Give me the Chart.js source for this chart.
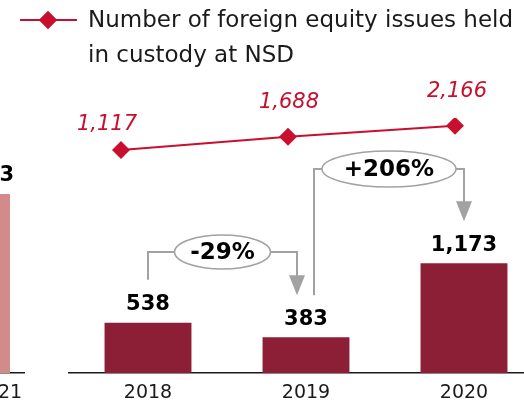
<!DOCTYPE html>
<html>
<head>
<meta charset="utf-8">
<script src="https://cdn.jsdelivr.net/npm/chart.js@4.4.0/dist/chart.umd.min.js"></script>
<style>
    html, body { margin: 0; padding: 0; background: #fff; }
    #wrap { position: relative; width: 524px; height: 404px; overflow: hidden; }
    #wrap canvas { position: absolute; top: 0; }
</style>
</head>
<body>
<div id="wrap">
    <canvas id="prevBars" width="80" height="412" style="left:-55px"></canvas>
    <canvas id="bars" width="600" height="412" style="left:0"></canvas>
    <canvas id="issues" width="524" height="404" style="left:0"></canvas>
</div>
<script>
// data
const prevYears = ["2021"];
const prevValues = [1913];
const years = ["2018", "2019", "2020"];
const barValues = [538, 383, 1173];
const issuesHeld = [1117, 1688, 2166];
const legendLines = ["Number of foreign equity issues held", "in custody at NSD"];

const FONT = "'DejaVu Sans', Verdana, sans-serif";
const RED = "#c8102e";
const WINE = "#8c1f36";
const PINK = "#d38a8a";
const GREY = "#a2a2a2";

function fmt(v) {
    return v.toLocaleString("en-US");
}

// value above every bar
const barLabels = {
    id: "barLabels",
    afterDatasetsDraw(chart) {
        const ctx = chart.ctx;
        ctx.save();
        ctx.font = "bold 21px " + FONT;
        ctx.fillStyle = "#000";
        ctx.textAlign = "center";
        ctx.textBaseline = "middle";
        chart.getDatasetMeta(0).data.forEach((bar, i) => {
            const x = bar.x + (chart.options.labelShift || 0);
            ctx.fillText(fmt(chart.data.datasets[0].data[i]), x, bar.y - 18);
        });
        ctx.restore();
    }
};

// change bubbles between neighbouring bars
const changeBubbles = {
    id: "changeBubbles",
    afterDatasetsDraw(chart) {
        const ctx = chart.ctx;
        const bars = chart.getDatasetMeta(0).data;
        const vals = chart.data.datasets[0].data;

        function arrowHead(x, y) {
            ctx.beginPath();
            ctx.moveTo(x - 8, y - 20);
            ctx.lineTo(x + 8, y - 20);
            ctx.lineTo(x, y);
            ctx.closePath();
            ctx.fill();
        }

        function bubble(from, to, level, rx, ry, x0, x1) {
            const a = bars[from], b = bars[to];
            const pct = Math.round((vals[to] / vals[from] - 1) * 100);
            const text = (pct > 0 ? "+" : "") + pct + "%";
            const startY = a.y - (from === 0 ? 43 : 42);
            const cx = (x0 + x1) / 2;
            const tipY = b.y - 42;

            ctx.save();
            ctx.strokeStyle = GREY;
            ctx.fillStyle = GREY;
            ctx.lineWidth = 2;
            ctx.beginPath();
            ctx.moveTo(x0, startY);
            ctx.lineTo(x0, level);
            ctx.lineTo(cx - rx, level);
            ctx.moveTo(cx + rx, level);
            ctx.lineTo(x1, level);
            ctx.lineTo(x1, tipY - 18);
            ctx.stroke();
            arrowHead(x1, tipY);

            ctx.beginPath();
            ctx.ellipse(cx, level, rx, ry, 0, 0, Math.PI * 2);
            ctx.fillStyle = "#fff";
            ctx.fill();
            ctx.lineWidth = 1.5;
            ctx.stroke();

            ctx.fillStyle = "#000";
            ctx.font = "bold 23px " + FONT;
            ctx.textAlign = "center";
            ctx.textBaseline = "middle";
            ctx.fillText(text, cx, level + 1);
            ctx.restore();
        }

        bubble(0, 1, 252, 48, 17, bars[0].x, bars[1].x - 9);
        bubble(1, 2, 169, 67, 18, bars[1].x + 8, bars[2].x);
    }
};

function axisX(labelOffset) {
    return {
        grid: {display: false, drawTicks: false},
        border: {display: true, color: "#1a1a1a", width: 1.5},
        ticks: {
            color: "#1a1a1a",
            font: {family: FONT, size: 19},
            padding: 8,
            labelOffset: labelOffset
        }
    };
}

const yHidden = {display: false, min: 0, max: 2500};

new Chart(document.getElementById("prevBars"), {
    type: "bar",
    data: {
        labels: prevYears,
        datasets: [{data: prevValues, backgroundColor: PINK, barPercentage: 0.625, categoryPercentage: 1}]
    },
    options: {
        responsive: false,
        animation: false,
        labelShift: -4,
        layout: {padding: {top: 139, left: 0, right: 0, bottom: 0}},
        plugins: {legend: {display: false}, tooltip: {enabled: false}},
        scales: {x: axisX(13), y: yHidden}
    },
    plugins: [barLabels]
});

new Chart(document.getElementById("bars"), {
    type: "bar",
    data: {
        labels: years,
        datasets: [{data: barValues, backgroundColor: WINE, barPercentage: 0.55, categoryPercentage: 1}]
    },
    options: {
        responsive: false,
        animation: false,
        layout: {padding: {top: 139, left: 69, right: 57, bottom: 0}},
        plugins: {legend: {display: false}, tooltip: {enabled: false}},
        scales: {x: axisX(0), y: yHidden}
    },
    plugins: [barLabels, changeBubbles]
});

// legend with a two-line caption
const issuesLegend = {
    id: "issuesLegend",
    afterDraw(chart) {
        const ctx = chart.ctx;
        ctx.save();
        ctx.strokeStyle = RED;
        ctx.lineWidth = 2;
        ctx.beginPath();
        ctx.moveTo(20, 20);
        ctx.lineTo(77, 20);
        ctx.stroke();
        ctx.fillStyle = RED;
        Chart.helpers.drawPoint(ctx, {pointStyle: "rectRot", radius: 9, borderWidth: 0}, 48, 20);
        ctx.fill();
        ctx.fillStyle = "#1a1a1a";
        ctx.font = "23px " + FONT;
        ctx.textBaseline = "middle";
        legendLines.forEach((line, i) => ctx.fillText(line, 88, 21 + i * 35));
        ctx.restore();
    }
};

// italic values over the line points
const lineLabelShift = [[-14, -26], [1, -34], [2, -34]];
const issuesLabels = {
    id: "issuesLabels",
    afterDatasetsDraw(chart) {
        const ctx = chart.ctx;
        ctx.save();
        ctx.font = "oblique 21px " + FONT;
        ctx.fillStyle = RED;
        ctx.textAlign = "center";
        ctx.textBaseline = "middle";
        chart.getDatasetMeta(0).data.forEach((pt, i) => {
            const s = lineLabelShift[i];
            ctx.fillText(fmt(issuesHeld[i]), pt.x + s[0], pt.y + s[1]);
        });
        ctx.restore();
    }
};

new Chart(document.getElementById("issues"), {
    type: "line",
    data: {
        labels: years,
        datasets: [{
            data: issuesHeld,
            borderColor: RED,
            backgroundColor: RED,
            borderWidth: 2,
            pointStyle: "rectRot",
            pointRadius: 9,
            pointBorderWidth: 0,
            tension: 0
        }]
    },
    options: {
        responsive: false,
        animation: false,
        layout: {padding: {top: 118, left: 121, right: 69, bottom: 228}},
        plugins: {legend: {display: false}, tooltip: {enabled: false}},
        scales: {
            x: {display: false, offset: false},
            y: yHidden
        }
    },
    plugins: [issuesLegend, issuesLabels]
});
</script>
</body>
</html>
